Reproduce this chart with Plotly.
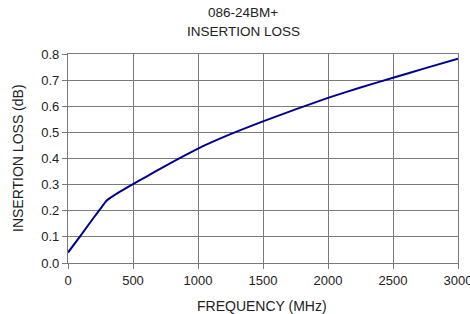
import plotly.graph_objects as go

freq_mhz = [0, 100, 200, 250, 300, 400, 500, 600, 750, 1000, 1250, 1500, 1750, 2000, 2250, 2500, 2750, 3000]
insertion_loss_db = [0.040, 0.107, 0.175, 0.208, 0.240, 0.273, 0.302, 0.330, 0.372, 0.438, 0.493, 0.542, 0.588, 0.632, 0.672, 0.709, 0.746, 0.782]

x_ticks = [0, 500, 1000, 1500, 2000, 2500, 3000]
y_ticks = [0.0, 0.1, 0.2, 0.3, 0.4, 0.5, 0.6, 0.7, 0.8]

title_lines = ["086-24BM+", "INSERTION LOSS"]
x_title = "FREQUENCY (MHz)"
y_title = "INSERTION LOSS (dB)"

grid_color = "#7a7a7a"
text_color = "#222222"
font_family = "Liberation Sans, Arial, sans-serif"

W, H = 470, 314
L, R, T, B = 68, 12, 54, 51
PW, PH = W - L - R, H - T - B


def px_x(x):
    return (x - L) / PW


def px_y(y):
    return (H - B - y) / PH


fig = go.Figure()
fig.add_trace(go.Scatter(
    x=freq_mhz, y=insertion_loss_db, mode="lines",
    line=dict(color="#000090", width=2, shape="spline", smoothing=0.5),
    showlegend=False, hoverinfo="skip",
))

annotations = []
for text, yc in zip(title_lines, [13, 32]):
    annotations.append(dict(
        text=text, x=px_x(243), y=px_y(yc), xref="paper", yref="paper",
        xanchor="center", yanchor="middle", showarrow=False,
        font=dict(family=font_family, size=13.5, color=text_color),
    ))
annotations.append(dict(
    text=x_title, x=px_x(262), y=px_y(306), xref="paper", yref="paper",
    xanchor="center", yanchor="middle", showarrow=False,
    font=dict(family=font_family, size=14, color=text_color),
))
annotations.append(dict(
    text=y_title, x=px_x(18), y=px_y(158), xref="paper", yref="paper",
    xanchor="center", yanchor="middle", showarrow=False, textangle=-90,
    font=dict(family=font_family, size=14, color=text_color),
))

fig.update_layout(
    width=W, height=H,
    margin=dict(l=L, r=R, t=T, b=B, autoexpand=False),
    paper_bgcolor="white", plot_bgcolor="white",
    font=dict(family=font_family, size=13, color=text_color),
    annotations=annotations,
)

common = dict(
    showgrid=True, gridcolor=grid_color, gridwidth=1.3,
    showline=True, linecolor=grid_color, linewidth=1.3, mirror=True,
    ticks="outside", ticklen=5, tickcolor=grid_color, tickwidth=1.3,
    zeroline=False, automargin=False, ticklabeloverflow="allow",
    tickfont=dict(size=13, color=text_color),
)
fig.update_xaxes(range=[0, 3000], tickvals=x_ticks,
                 ticktext=[str(v) for v in x_ticks], **common)
fig.update_yaxes(range=[0, 0.8], tickvals=y_ticks,
                 ticktext=[f"{v:.1f}" for v in y_ticks], **common)

fig.write_html(
    "out.html",
    config={"displayModeBar": False},
    post_script="document.body.style.margin='0';document.body.style.overflow='hidden';",
)
